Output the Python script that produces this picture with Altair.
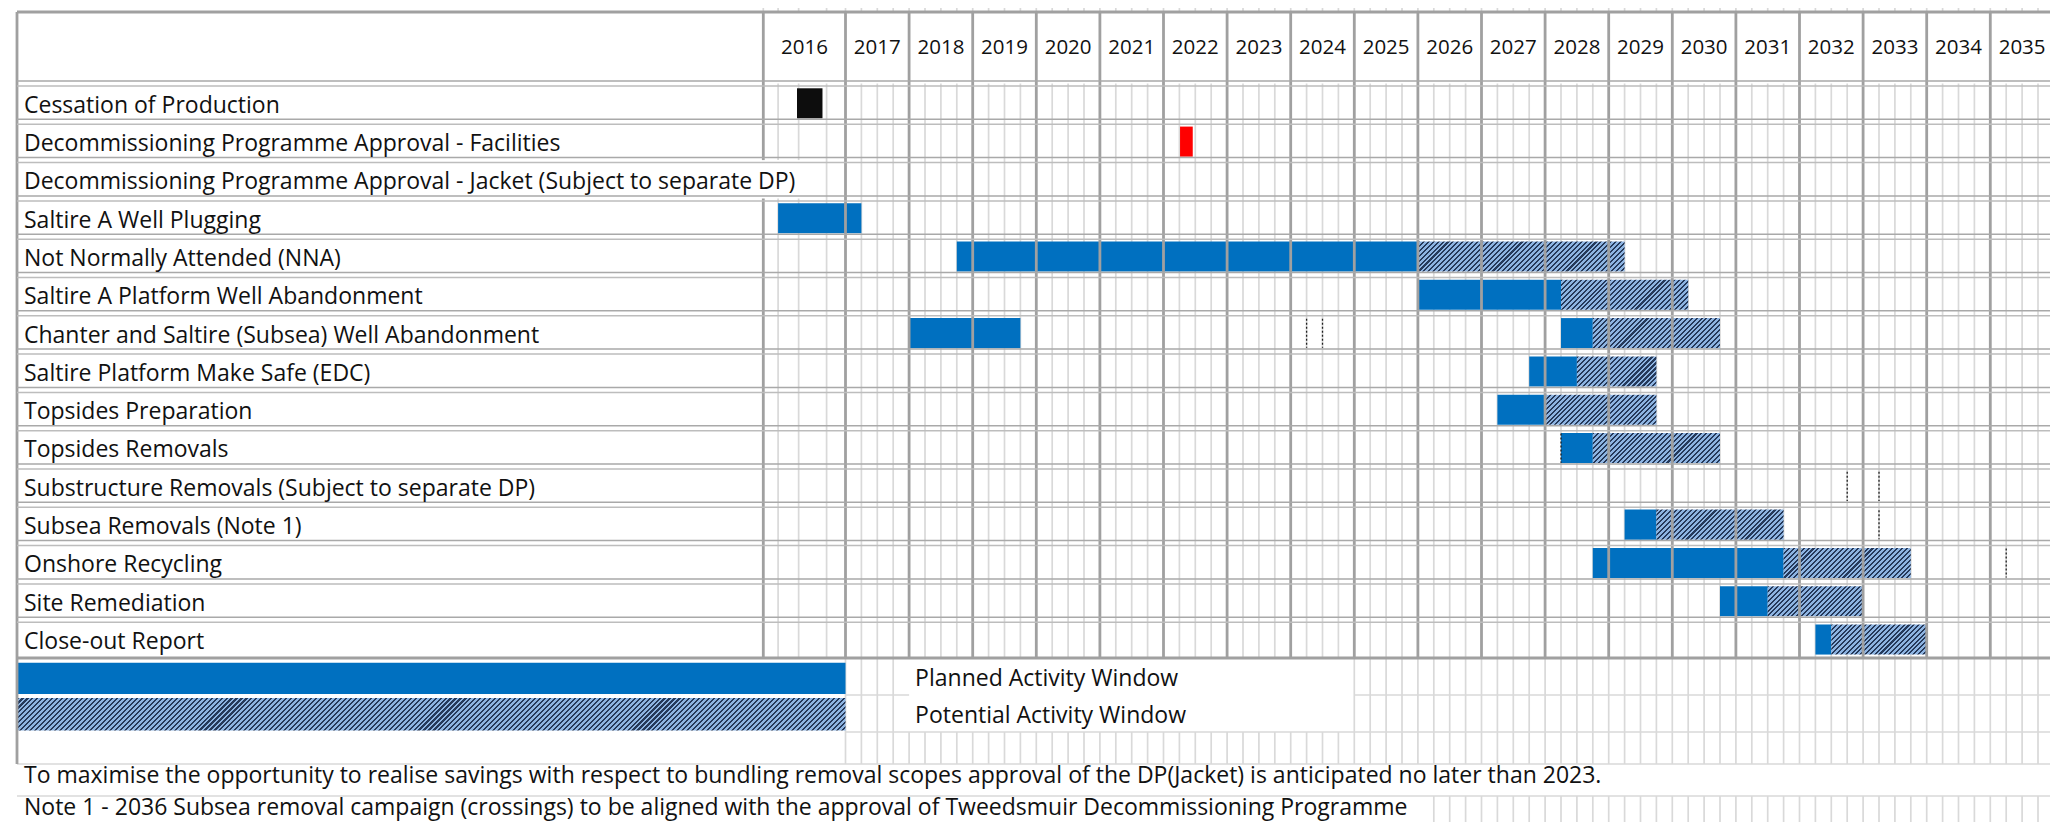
import altair as alt
import numpy as np
import pandas as pd

# ---------------- data ----------------
TASKS = [
    "Cessation of Production",
    "Decommissioning Programme Approval - Facilities",
    "Decommissioning Programme Approval - Jacket (Subject to separate DP)",
    "Saltire A Well Plugging",
    "Not Normally Attended (NNA)",
    "Saltire A Platform Well Abandonment",
    "Chanter and Saltire (Subsea) Well Abandonment",
    "Saltire Platform Make Safe (EDC)",
    "Topsides Preparation",
    "Topsides Removals",
    "Substructure Removals (Subject to separate DP)",
    "Subsea Removals (Note 1)",
    "Onshore Recycling",
    "Site Remediation",
    "Close-out Report",
]
YEARS = list(range(2016, 2036))
SUBCOLS_2016 = [2016.18, 2016.43, 2016.77]
QUARTER_OFFSETS = [0.25, 0.5, 0.75]

MILESTONE_TASK = ["Cessation of Production",
                  "Decommissioning Programme Approval - Facilities"]
MILESTONE_START = [2016.41, 2022.26]
MILESTONE_END = [2016.72, 2022.46]
MILESTONE_COLOR = ["#0d0d0d", "#ff0000"]

PLANNED_TASK = [
    "Saltire A Well Plugging",
    "Not Normally Attended (NNA)",
    "Saltire A Platform Well Abandonment",
    "Chanter and Saltire (Subsea) Well Abandonment",
    "Chanter and Saltire (Subsea) Well Abandonment",
    "Saltire Platform Make Safe (EDC)",
    "Topsides Preparation",
    "Topsides Removals",
    "Subsea Removals (Note 1)",
    "Onshore Recycling",
    "Site Remediation",
    "Close-out Report",
]
PLANNED_START = [2016.18, 2018.75, 2026.0, 2018.0, 2028.25, 2027.75,
                 2027.25, 2028.25, 2029.25, 2028.75, 2030.75, 2032.25]
PLANNED_END = [2017.25, 2026.0, 2028.25, 2019.75, 2028.75, 2028.5,
               2028.0, 2028.75, 2029.75, 2031.75, 2031.5, 2032.5]

POTENTIAL_TASK = [
    "Not Normally Attended (NNA)",
    "Saltire A Platform Well Abandonment",
    "Chanter and Saltire (Subsea) Well Abandonment",
    "Saltire Platform Make Safe (EDC)",
    "Topsides Preparation",
    "Topsides Removals",
    "Subsea Removals (Note 1)",
    "Onshore Recycling",
    "Site Remediation",
    "Close-out Report",
]
POTENTIAL_START = [2026.0, 2028.25, 2028.75, 2028.5, 2028.0, 2028.75,
                   2029.75, 2031.75, 2031.5, 2032.5]
POTENTIAL_END = [2029.25, 2030.25, 2030.75, 2029.75, 2029.75, 2030.75,
                 2031.75, 2033.75, 2033.0, 2034.0]

DOTTED_TASK = [
    "Chanter and Saltire (Subsea) Well Abandonment",
    "Chanter and Saltire (Subsea) Well Abandonment",
    "Topsides Removals",
    "Substructure Removals (Subject to separate DP)",
    "Substructure Removals (Subject to separate DP)",
    "Subsea Removals (Note 1)",
    "Onshore Recycling",
]
DOTTED_X = [2024.25, 2024.5, 2028.25, 2032.75, 2033.25, 2033.25, 2035.25]

LEGEND_LABELS = ["Planned Activity Window", "Potential Activity Window"]
NOTES = [
    "To maximise the opportunity to realise savings with respect to bundling removal scopes approval of the DP(Jacket) is anticipated no later than 2023.",
    "Note 1 - 2036 Subsea removal campaign (crossings) to be aligned with the approval of Tweedsmuir Decommissioning Programme",
]

# ---------------- layout / style ----------------
LABEL_COL = 2015          # domain value of the label column's left edge
X_END = 2037
PLOT_W = 2033
YEAR_PX = 63.6
X_DOMAIN = [2015, 2016, 2017, 2017 + (PLOT_W - 828.5) / YEAR_PX]
X_RANGE = [0, 746.3, 828.5, PLOT_W]
Y_DOMAIN = [-1.06, -1, 0, 15, 17, 20]
Y_RANGE = [0, 4, 75.5, 650, 724, 820]
BAR_TOP, BAR_BOT = 0.125, 0.91
BLUE = "#0070c0"
HATCH_DARK = "#25395a"
HATCH_LIGHT = "#8db4e2"
HATCH_PERIOD = 5.0
THICK = "#a0a0a0"
LIGHT = "#d9d9d9"
DOUBLE_A = "#a9a9a9"
DOUBLE_B = "#bdbdbd"
FONT = "Open Sans"
FS = 23
FS_YEAR = 20.5

xs = alt.Scale(domain=X_DOMAIN, range=X_RANGE, nice=False, zero=False)
ys = alt.Scale(domain=Y_DOMAIN, range=Y_RANGE, nice=False, zero=False)


def X(f):
    return alt.X(f, type="quantitative", scale=xs, axis=None)


def Y(f):
    return alt.Y(f, type="quantitative", scale=ys, axis=None)


row_of = {t: i for i, t in enumerate(TASKS)}


def px(v):
    return float(np.interp(v, X_DOMAIN, X_RANGE))


def py(v):
    return float(np.interp(v, Y_DOMAIN, Y_RANGE))


def hatch(x0, x1, y0, y1):
    W = px(x1) - px(x0)
    H = py(y1) - py(y0)
    k = (W + H) * W / (W * W + H * H)
    n = int(np.ceil((W + H) / HATCH_PERIOD))
    stops = []
    for j in range(n):
        a, b, c = j / n, (j + 0.42) / n, (j + 1) / n
        stops += [
            {"offset": round(a, 6), "color": HATCH_DARK},
            {"offset": round(b, 6), "color": HATCH_DARK},
            {"offset": round(b, 6), "color": HATCH_LIGHT},
            {"offset": round(c, 6), "color": HATCH_LIGHT},
        ]
    return {"gradient": "linear", "x1": 0, "y1": 0, "x2": k,
            "y2": k * H / W, "stops": stops}


# ---------------- grid tables ----------------
light_pos = SUBCOLS_2016 + [y + q for y in YEARS[1:] for q in [0.0] + QUARTER_OFFSETS]

vthick = [(LABEL_COL, -1, 18), (2016, -1, 2), (2016, 3, 15)]
vthick += [(y, -1, 15) for y in YEARS[1:]]

vlight = [(p, -1.06, -1) for p in [2016.0] + light_pos]
for p in light_pos:
    if abs(p - round(p)) > 1e-9:          # quarter lines inside the table
        if p < 2016.5:
            vlight += [(p, 0, 2), (p, 3, 15)]
        else:
            vlight.append((p, 0, 15))
    if 2017 <= p < 2018 or p >= 2025:
        vlight.append((p, 15, 17))
    if p >= 2017:
        vlight.append((p, 17, 18))
    if p > 2026:
        vlight.append((p, 19, 20))

df_vthick = pd.DataFrame(vthick, columns=["x", "y", "y2"])
df_vlight = pd.DataFrame(vlight, columns=["x", "y", "y2"])

df_hlight = pd.DataFrame(
    [(16, 2017, 2018), (16, 2025, X_END), (17, 2017, X_END),
     (18, LABEL_COL, X_END), (19, LABEL_COL, X_END), (20, LABEL_COL, X_END)],
    columns=["y", "x", "x2"])
df_hthick = pd.DataFrame([(-1, LABEL_COL, X_END), (15, LABEL_COL, X_END)],
                         columns=["y", "x", "x2"])
df_hdouble = pd.DataFrame([(r, LABEL_COL, X_END) for r in range(0, 15)],
                          columns=["y", "x", "x2"])

# ---------------- bar tables ----------------
df_ms = pd.DataFrame({
    "x": MILESTONE_START, "x2": MILESTONE_END, "color": MILESTONE_COLOR,
    "y": [row_of[t] + BAR_TOP for t in MILESTONE_TASK],
    "y2": [row_of[t] + BAR_BOT for t in MILESTONE_TASK],
})
df_plan = pd.DataFrame({
    "x": PLANNED_START, "x2": PLANNED_END,
    "y": [row_of[t] + BAR_TOP for t in PLANNED_TASK],
    "y2": [row_of[t] + BAR_BOT for t in PLANNED_TASK],
})
df_dot = pd.DataFrame({
    "x": DOTTED_X,
    "y": [row_of[t] + 0.14 for t in DOTTED_TASK],
    "y2": [row_of[t] + 0.9 for t in DOTTED_TASK],
})

# ---------------- layers ----------------
layers = []
layers.append(alt.Chart(df_vlight).mark_rule(color=LIGHT, strokeWidth=1.7)
              .encode(x=X("x"), y=Y("y"), y2="y2"))
layers.append(alt.Chart(df_hlight).mark_rule(color=LIGHT, strokeWidth=1.7)
              .encode(x=X("x"), x2="x2", y=Y("y")))

layers.append(alt.Chart(df_plan).mark_rect(color=BLUE)
              .encode(x=X("x"), x2="x2", y=Y("y"), y2="y2"))
layers.append(alt.Chart(df_ms).mark_rect()
              .encode(x=X("x"), x2="x2", y=Y("y"), y2="y2",
                      color=alt.Color("color:N", scale=None)))

for t, s, e in zip(POTENTIAL_TASK, POTENTIAL_START, POTENTIAL_END):
    r = row_of[t]
    d = pd.DataFrame({"x": [s], "x2": [e], "y": [r + BAR_TOP], "y2": [r + BAR_BOT]})
    layers.append(alt.Chart(d).mark_rect(fill=hatch(s, e, r + BAR_TOP, r + BAR_BOT))
                  .encode(x=X("x"), x2="x2", y=Y("y"), y2="y2"))

# legend swatches (span the label column and the 2016 column)
leg_plan = pd.DataFrame({"x": [LABEL_COL], "x2": [2017], "y": [15.13], "y2": [15.97]})
leg_pot = pd.DataFrame({"x": [LABEL_COL], "x2": [2017], "y": [16.08], "y2": [16.96]})
layers.append(alt.Chart(leg_plan).mark_rect(color=BLUE)
              .encode(x=X("x"), x2="x2", y=Y("y"), y2="y2"))
layers.append(alt.Chart(leg_pot).mark_rect(fill=hatch(LABEL_COL, 2017, 16.08, 16.96))
              .encode(x=X("x"), x2="x2", y=Y("y"), y2="y2"))

layers.append(alt.Chart(df_vthick).mark_rule(color=THICK, strokeWidth=2.8)
              .encode(x=X("x"), y=Y("y"), y2="y2"))
layers.append(alt.Chart(df_hdouble).mark_rule(color=DOUBLE_A, strokeWidth=1.5, yOffset=-2.5)
              .encode(x=X("x"), x2="x2", y=Y("y")))
layers.append(alt.Chart(df_hdouble).mark_rule(color=DOUBLE_B, strokeWidth=1.5, yOffset=2.5)
              .encode(x=X("x"), x2="x2", y=Y("y")))
layers.append(alt.Chart(df_hthick).mark_rule(color=THICK, strokeWidth=3)
              .encode(x=X("x"), x2="x2", y=Y("y")))
layers.append(alt.Chart(df_dot).mark_rule(color="#202020", strokeWidth=1.3, strokeDash=[2, 2])
              .encode(x=X("x"), y=Y("y"), y2="y2"))

# ---------------- text ----------------
df_years = pd.DataFrame({"label": [str(y) for y in YEARS],
                         "x": [y + 0.5 for y in YEARS],
                         "y": [-0.41] * len(YEARS)})
df_tasks = pd.DataFrame({"label": TASKS, "x": [LABEL_COL] * len(TASKS),
                         "y": [i + 0.765 for i in range(len(TASKS))]})
df_leg = pd.DataFrame({"label": LEGEND_LABELS, "x": [2018, 2018], "y": [15.76, 16.76]})
df_notes = pd.DataFrame({"label": NOTES, "x": [LABEL_COL, LABEL_COL], "y": [18.6, 19.6]})

txt = dict(font=FONT, color="#111111", baseline="alphabetic")
layers.append(alt.Chart(df_years).mark_text(align="center", fontSize=FS_YEAR, **txt)
              .encode(x=X("x"), y=Y("y"), text="label:N"))
layers.append(alt.Chart(df_tasks).mark_text(align="left", dx=7, fontSize=FS, **txt)
              .encode(x=X("x"), y=Y("y"), text="label:N"))
layers.append(alt.Chart(df_leg).mark_text(align="left", dx=6, fontSize=FS, **txt)
              .encode(x=X("x"), y=Y("y"), text="label:N"))
layers.append(alt.Chart(df_notes).mark_text(align="left", dx=7, fontSize=FS, **txt)
              .encode(x=X("x"), y=Y("y"), text="label:N"))

chart = (
    alt.layer(*layers)
    .properties(width=PLOT_W, height=814,
                padding={"left": 9, "top": 0, "right": 0, "bottom": 0},
                autosize=alt.AutoSizeParams(type="none"),
                background="white")
    .configure_view(stroke=None)
)

chart.save("out.html", embed_options={"renderer": "svg", "actions": False})
